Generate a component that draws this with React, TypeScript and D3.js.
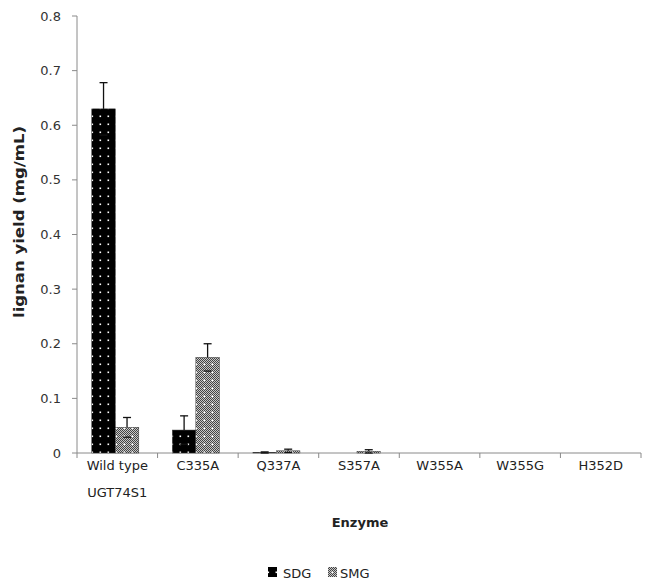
import React from "react";
import * as d3 from "d3";

const categories = ["Wild type|UGT74S1", "C335A", "Q337A", "S357A", "W355A", "W355G", "H352D"];
const sdg = [0.63, 0.042, 0.001, 0, 0, 0, 0];
const sdgErr = [0.048, 0.026, 0.001, 0, 0, 0, 0];
const smg = [0.047, 0.175, 0.004, 0.003, 0, 0, 0];
const smgErr = [0.018, 0.025, 0.003, 0.003, 0, 0, 0];
const yTicks = [0, 0.1, 0.2, 0.3, 0.4, 0.5, 0.6, 0.7, 0.8];
const seriesNames = ["SDG", "SMG"];

export default function App() {
  const W = 648, H = 585;
  const left = 77, right = 641, top = 16, bottom = 453;
  const xc = d3.scaleBand().domain(categories).range([left, right]);
  const groupW = 47;
  const y = d3.scaleLinear().domain([0, 0.8]).range([bottom, top]);
  const inner = d3.scaleBand().domain(seriesNames).range([0, groupW]);
  const font = "Verdana, 'DejaVu Sans', sans-serif";
  const axisColor = "#8a8a8a";
  const series = [
    { name: "SDG", vals: sdg, errs: sdgErr, fill: "url(#pSDG)" },
    { name: "SMG", vals: smg, errs: smgErr, fill: "url(#pSMG)" },
  ];
  const checker: [number, number][] = [];
  for (let i = 0; i < 8; i++) for (let j = 0; j < 8; j++) if ((i + j) % 2 === 0) checker.push([i, j]);
  return (
    <svg width={W} height={H} style={{ position: "absolute", left: 0, top: 0, background: "#fff" }}>
      <defs>
        <pattern id="pSDG" width="8" height="8" patternUnits="userSpaceOnUse">
          <rect width="8" height="8" fill="#000" />
          <rect x="3.5" y="3.5" width="1.6" height="1.6" fill="#fff" />
        </pattern>
        <pattern id="pSMG" width="8" height="8" patternUnits="userSpaceOnUse">
          <rect width="8" height="8" fill="#c8c8c8" />
          {checker.map(([i, j]) => (
            <rect key={i + "-" + j} x={i} y={j} width="1" height="1" fill="#444" />
          ))}
          <rect x="3.5" y="3.5" width="1.6" height="1.6" fill="#fff" />
        </pattern>
      </defs>
      {/* y axis */}
      <line x1={left} x2={left} y1={y(0.8)} y2={bottom} stroke={axisColor} />
      {yTicks.map((t) => (
        <g key={t}>
          <line x1={left - 5} x2={left} y1={y(t)} y2={y(t)} stroke={axisColor} />
          <text x={left - 16} y={y(t)} dy="0.35em" textAnchor="end" fontFamily={font} fontSize={13} fill="#333">
            {t === 0 ? "0" : d3.format(".1f")(t)}
          </text>
        </g>
      ))}
      {/* x axis */}
      <line x1={left} x2={right} y1={bottom} y2={bottom} stroke={axisColor} />
      {[...categories.map((c) => xc(c)!), right].map((px, i) => (
        <line key={i} x1={px} x2={px} y1={bottom} y2={bottom + 5} stroke={axisColor} />
      ))}
      {categories.map((c) => {
        const lines = c.split("|");
        const cx = xc(c)! + xc.bandwidth() / 2;
        return (
          <text key={c} x={cx} y={470} textAnchor="middle" fontFamily={font} fontSize={13} fill="#222">
            {lines.map((l, i) => (
              <tspan key={i} x={cx} dy={i === 0 ? 0 : 27}>{l}</tspan>
            ))}
          </text>
        );
      })}
      {/* bars */}
      {series.map((s) =>
        categories.map((c, i) => {
          const gx = xc(c)! + (xc.bandwidth() - groupW) / 2 - 2;
          const bx = gx + inner(s.name)!;
          const bw = inner.bandwidth();
          const v = s.vals[i];
          const e = s.errs[i];
          const cx = bx + bw / 2;
          return (
            <g key={s.name + c}>
              {v > 0 && (
                <rect x={bx} y={y(v)} width={bw} height={bottom - y(v)} fill={s.fill} stroke="#333" strokeWidth={0.5} />
              )}
              {e > 0 && (
                <g stroke="#111" strokeWidth={1.3}>
                  <line x1={cx} x2={cx} y1={y(v)} y2={y(v + e)} />
                  <line x1={cx - 4} x2={cx + 4} y1={y(v + e)} y2={y(v + e)} />
                  {v - e >= 0 && <line x1={cx - 4} x2={cx + 4} y1={y(v - e)} y2={y(v - e)} />}
                </g>
              )}
            </g>
          );
        })
      )}
      {/* axis titles */}
      <text transform={`translate(24,222) rotate(-90)`} textAnchor="middle" fontFamily={font} fontSize={14} fontWeight="bold" fill="#222" textLength={192} lengthAdjust="spacingAndGlyphs">
        lignan yield (mg/mL)
      </text>
      <text x={360} y={527} textAnchor="middle" fontFamily={font} fontSize={13} fontWeight="bold" fill="#222">
        Enzyme
      </text>
      {/* legend */}
      <rect x={268} y={567} width={9} height={10} fill="url(#pSDG)" />
      <text x={283} y={578} fontFamily={font} fontSize={13} fill="#222">SDG</text>
      <rect x={328} y={567} width={9} height={10} fill="url(#pSMG)" />
      <text x={340} y={578} fontFamily={font} fontSize={13} fill="#222">SMG</text>
    </svg>
  );
}
